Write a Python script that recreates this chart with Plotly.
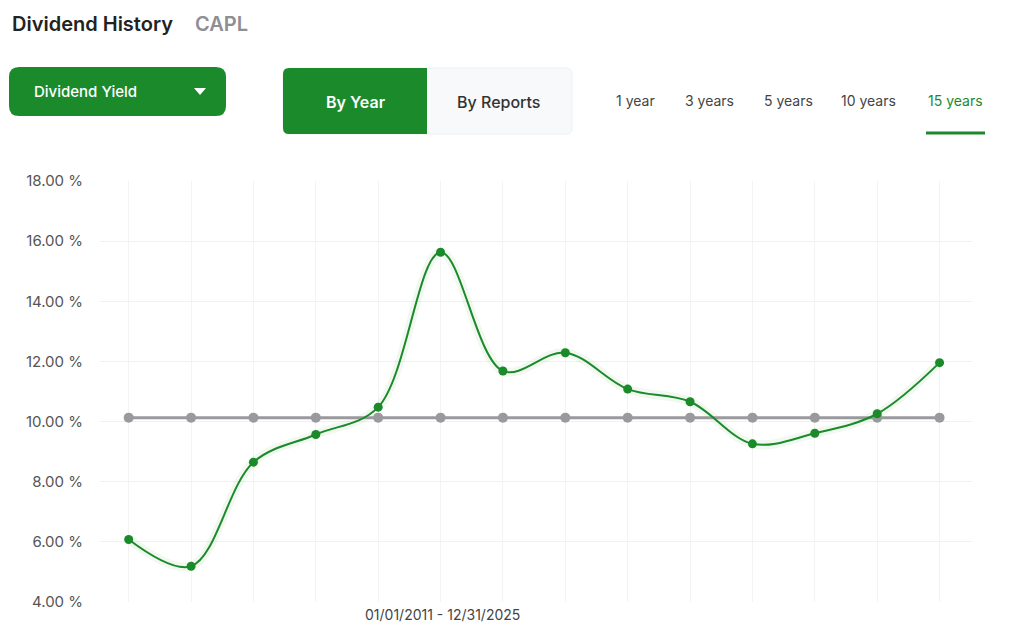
import plotly.graph_objects as go

# yearly dividend yield of CAPL, in percent
years = [2012, 2013, 2014, 2015, 2016, 2017, 2018, 2019, 2020, 2021, 2022, 2023, 2024, 2025]
yield_pct = [6.08, 5.19, 8.65, 9.57, 10.48, 15.63, 11.68, 12.29, 11.08, 10.66, 9.26, 9.61, 10.26, 11.96]
average_pct = [10.13] * len(years)
y_ticks = [4, 6, 8, 10, 12, 14, 16, 18]
periods = ['1 year', '3 years', '5 years', '10 years', '15 years']
period_x = [614, 683, 762, 839, 926]

GREEN = '#1b8a2b'
FONT = 'Inter, Lato, sans-serif'

# the page puts the figure 8px in from the top left corner
OFF = 8
# plot area in page pixels
L, R, T, B = 100, 972, 181, 602
W, H = 1008, 620


def px(x):
    return (x - L) / (R - L)


def py(y):
    return (B - y) / (B - T)


def round_rect(x0, y0, x1, y1, r, left=True, right=True):
    """svg path of a rounded rectangle in paper coordinates (input in pixels)"""
    rx = r / (R - L)
    ry = r / (B - T)
    a0, a1 = px(x0), px(x1)
    b0, b1 = py(y1), py(y0)  # b0 bottom, b1 top
    rl = rx if left else 0
    rr = rx if right else 0
    yl = ry if left else 0
    yr = ry if right else 0
    return (f'M {a0 + rl},{b1} L {a1 - rr},{b1} Q {a1},{b1} {a1},{b1 - yr} '
            f'L {a1},{b0 + yr} Q {a1},{b0} {a1 - rr},{b0} L {a0 + rl},{b0} '
            f'Q {a0},{b0} {a0},{b0 + yl} L {a0},{b1 - yl} Q {a0},{b1} {a0 + rl},{b1} Z')


fig = go.Figure()

# soft glow under the yield line
fig.add_trace(go.Scatter(x=years, y=yield_pct, mode='lines',
                         line=dict(color='rgba(60,170,60,0.08)', width=9, shape='spline', smoothing=1.0),
                         hoverinfo='skip', showlegend=False))
fig.add_trace(go.Scatter(x=years, y=average_pct, mode='lines+markers',
                         line=dict(color='#9a9a9e', width=3),
                         marker=dict(color='#9a9a9e', size=10),
                         name='Average', showlegend=False))
fig.add_trace(go.Scatter(x=years, y=yield_pct, mode='lines+markers',
                         line=dict(color=GREEN, width=2, shape='spline', smoothing=1.0),
                         marker=dict(color=GREEN, size=9),
                         name='Dividend Yield', showlegend=False))

shapes = [
    # dropdown button
    dict(type='path', path=round_rect(9, 67, 226, 116, 10), xref='paper', yref='paper',
         fillcolor=GREEN, line=dict(width=0), layer='above'),
    # dropdown triangle
    dict(type='path', xref='paper', yref='paper', fillcolor='white', line=dict(width=0),
         path=f'M {px(194)},{py(88)} L {px(206)},{py(88)} L {px(200)},{py(95)} Z'),
    # By Reports tab
    dict(type='path', path=round_rect(283, 68, 572, 134, 6), xref='paper', yref='paper',
         fillcolor='#f8f9fb', line=dict(color='#eef0f3', width=1)),
    # By Year tab
    dict(type='path', path=round_rect(283, 68, 427, 134, 6, right=False), xref='paper', yref='paper',
         fillcolor=GREEN, line=dict(width=0)),
    # underline of selected period
    dict(type='line', xref='paper', yref='paper', x0=px(926), x1=px(985), y0=py(133), y1=py(133),
         line=dict(color=GREEN, width=3)),
]

annotations = [
    dict(text='Dividend History', x=px(10), y=py(24), font=dict(size=20, color='#222222', weight=600)),
    dict(text='CAPL', x=px(193), y=py(24), font=dict(size=20, color='#8e8e93', weight=600)),
    dict(text='Dividend Yield', x=px(32), y=py(92), font=dict(size=15, color='white', weight=500)),
    dict(text='By Year', x=px(324), y=py(102), font=dict(size=16, color='white', weight=600)),
    dict(text='By Reports', x=px(455), y=py(102), font=dict(size=16, color='#333333', weight=500)),
    dict(text='01/01/2011 - 12/31/2025', x=px(363), y=py(614), font=dict(size=14, color='#444444')),
]
for label, x in zip(periods, period_x):
    annotations.append(dict(text=label, x=px(x), y=py(100),
                            font=dict(size=14, color=GREEN if label == '15 years' else '#444444')))
for a in annotations:
    a.update(xref='paper', yref='paper', xanchor='left', yanchor='middle', showarrow=False)
    a['font']['family'] = FONT

fig.update_layout(
    width=W, height=H,
    margin=dict(l=L - OFF, r=W - (R - OFF), t=T - OFF, b=H - (B - OFF)),
    paper_bgcolor='white', plot_bgcolor='white',
    font=dict(family=FONT, color='#555555', size=15),
    shapes=shapes, annotations=annotations,
    xaxis=dict(range=[years[0] - 0.46, years[-1] + 0.52], tickvals=years, showticklabels=False,
               showgrid=True, gridcolor='#f2f3f2', zeroline=False, showline=False, ticks=''),
    yaxis=dict(range=[4, 18], tickvals=y_ticks, ticktext=[f'{v:.2f} %' for v in y_ticks],
               showgrid=True, gridcolor='#f0f1f0', zeroline=False, showline=False,
               ticks='', ticklabelstandoff=16),
)

fig.write_html('out.html')
